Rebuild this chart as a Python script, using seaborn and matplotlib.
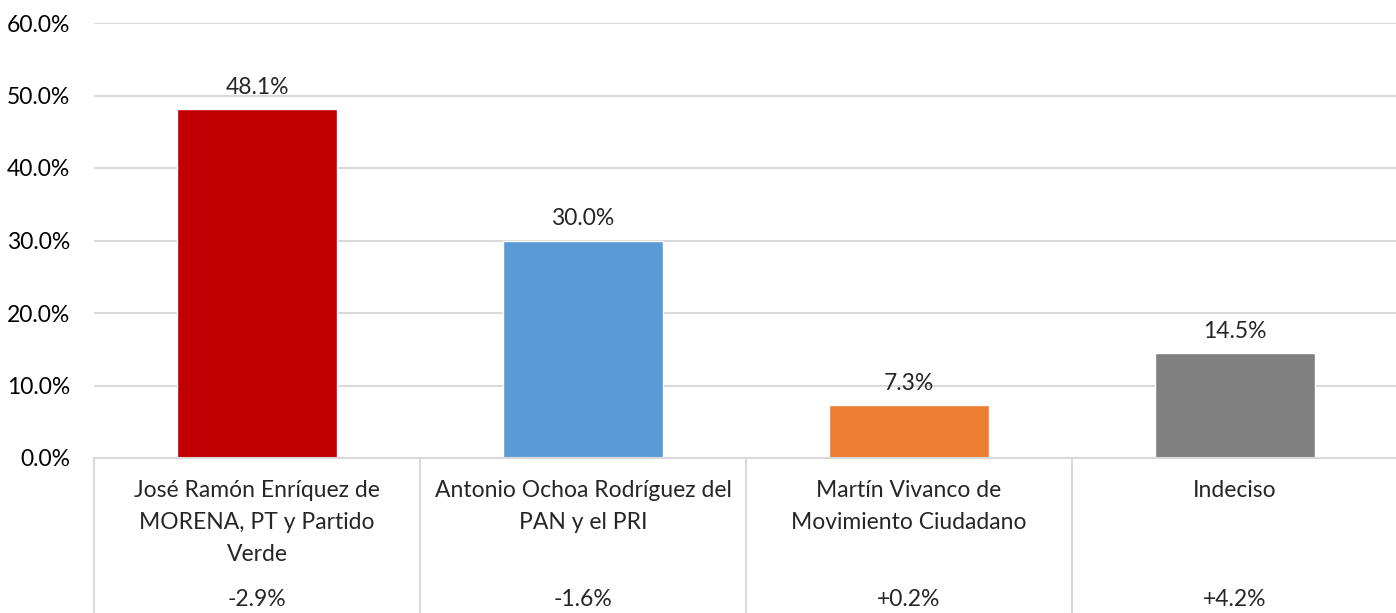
import seaborn as sns
import matplotlib.pyplot as plt
import matplotlib.transforms as mtransforms
import pandas as pd

candidatos = ['José Ramón Enríquez de\nMORENA, PT y Partido\nVerde',
              'Antonio Ochoa Rodríguez del\nPAN y el PRI',
              'Martín Vivanco de\nMovimiento Ciudadano',
              'Indeciso']
porcentajes = [48.1, 30.0, 7.3, 14.5]
cambios = ['-2.9%', '-1.6%', '+0.2%', '+4.2%']
colores = ['#C00000', '#5B9BD5', '#ED7D31', '#808080']

df = pd.DataFrame({'candidato': candidatos, 'pct': porcentajes})

sns.set_theme(style='white')
plt.rcParams['font.family'] = ['Lato', 'DejaVu Sans']

fig = plt.figure(figsize=(13.96, 6.13), dpi=100)
ax = fig.add_axes([94 / 1396, 155 / 613, 1304 / 1396, 435 / 613])

sns.barplot(data=df, x='candidato', y='pct', hue='candidato', palette=colores,
            legend=False, width=0.49, saturation=1, ax=ax)

ax.set_ylim(0, 60)
ax.set_xlim(-0.5, len(candidatos) - 0.5)
ax.set_yticks(range(0, 61, 10))
ax.set_yticklabels([f'{v:.1f}%' for v in range(0, 61, 10)], fontsize=16.5, color='black')
ax.yaxis.grid(True, color='#D9D9D9', lw=1.5)
ax.set_axisbelow(True)
for s in ['top', 'right', 'left']:
    ax.spines[s].set_visible(False)
ax.spines['bottom'].set_color('#D9D9D9')
ax.spines['bottom'].set_linewidth(1.5)
ax.tick_params(axis='both', length=0)
ax.tick_params(axis='y', pad=17)
ax.tick_params(axis='x', pad=16)
ax.set_xticks(range(len(candidatos)))
ax.set_xticklabels(candidatos, fontsize=16.5, va='top', linespacing=1.65)
ax.set_xlabel('')
ax.set_ylabel('')

for cont in ax.containers:
    ax.bar_label(cont, labels=[f'{v:.1f}%' for v in cont.datavalues],
                 padding=8, fontsize=16.5)

# table-style separators below the axis
trans = mtransforms.blended_transform_factory(ax.transData, ax.transAxes)
for i in range(len(candidatos) + 1):
    ax.plot([i - 0.5, i - 0.5], [0, -0.4], transform=trans, color='#D9D9D9',
            lw=1.5, clip_on=False)

for i, c in enumerate(cambios):
    ax.text(i, -0.325, c, transform=trans, ha='center', va='center', fontsize=16.5)

fig.savefig('out.png', dpi=100)
